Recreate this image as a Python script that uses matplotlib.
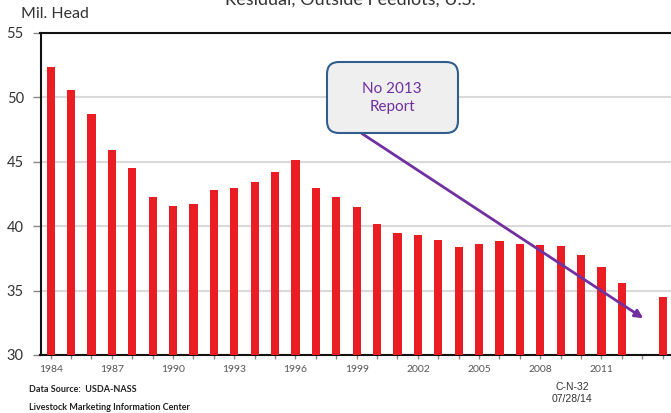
import matplotlib.pyplot as plt
from matplotlib.patches import FancyBboxPatch

plt.rcParams['font.family'] = ['Lato', 'DejaVu Sans']

# Residual cattle outside feedlots, million head (no 2013 report)
years = [1984, 1985, 1986, 1987, 1988, 1989, 1990, 1991, 1992, 1993,
         1994, 1995, 1996, 1997, 1998, 1999, 2000, 2001, 2002, 2003,
         2004, 2005, 2006, 2007, 2008, 2009, 2010, 2011, 2012, 2014]
head = [52.35, 50.6, 48.7, 45.95, 44.5, 42.3, 41.55, 41.7, 42.8, 42.95,
        43.45, 44.2, 45.15, 42.95, 42.25, 41.5, 40.2, 39.45, 39.35, 38.95,
        38.4, 38.65, 38.85, 38.65, 38.55, 38.45, 37.75, 36.8, 35.6, 34.5]
tick_years = list(range(1984, 2015))
label_years = list(range(1984, 2012, 3))
y_ticks = [30, 35, 40, 45, 50, 55]

# where the callout arrow points (the missing year)
missing_year = 2013
arrow_tip_y = 32.85
arrow_start = (1999.25, 47.2)

fig = plt.figure(figsize=(6.71, 4.13), dpi=100)
ax = fig.add_axes([40.5 / 671, 58 / 413, 632.4 / 671, 322 / 413])

ax.bar(years, head, width=0.4, color='#ea1c24', zorder=3)

ax.set_xlim(1983.5, 2014.5)
ax.set_ylim(30, 55)
ax.set_yticks(y_ticks)
ax.set_yticklabels([str(v) for v in y_ticks], fontsize=10.5, color='#333333')
ax.set_xticks(tick_years)
ax.set_xticklabels([str(y) if y in label_years else '' for y in tick_years],
                   fontsize=7.5, color='#555555')
ax.tick_params(axis='x', length=3, width=1, color='#888888', pad=4)
ax.tick_params(axis='y', length=6, width=1, color='#888888', pad=6)

ax.yaxis.grid(True, color='#d9d9d9', linewidth=1.5)
ax.set_axisbelow(True)
for side in ['left', 'bottom', 'top']:
    ax.spines[side].set_color('#111111')
    ax.spines[side].set_linewidth(1.5)
ax.spines['right'].set_visible(False)

# title cut off at the top of the slide
fig.text(350 / 671, 0.988, 'Residual, Outside Feedlots, U.S.', ha='center',
         va='baseline', fontsize=13, color='#333333')
fig.text(21 / 671, 0.957, 'Mil. Head', ha='left', va='baseline',
         fontsize=11.5, color='#333333')

# callout
box = FancyBboxPatch((3.27, 2.80), 1.31, 0.71,
                     boxstyle='round,pad=0,rounding_size=0.12',
                     transform=fig.dpi_scale_trans, facecolor='#efefef',
                     edgecolor='#2f5f8f', linewidth=1.5, zorder=5)
fig.add_artist(box)
fig.text(392 / 671, (413 - 98) / 413, 'No 2013\nReport', ha='center',
         va='center', fontsize=11, color='#7030a0', linespacing=1.3, zorder=6)
ax.annotate('', xy=(missing_year + 0.05, arrow_tip_y), xytext=arrow_start,
            arrowprops=dict(arrowstyle='-|>', color='#7030a0', lw=2,
                            mutation_scale=12, shrinkA=0, shrinkB=0),
            zorder=6, annotation_clip=False)

# footer
fig.text(29 / 671, (413 - 389) / 413, 'Data Source:  USDA-NASS',
         fontsize=6.5, fontweight='bold', va='center', color='#222222')
fig.text(29 / 671, (413 - 407) / 413, 'Livestock Marketing Information Center',
         fontsize=6.5, fontweight='bold', va='center', color='#222222')
fig.text(572 / 671, (413 - 386.5) / 413, 'C-N-32', fontsize=7.5, ha='center',
         va='center', family='Liberation Sans', color='#333333')
fig.text(572 / 671, (413 - 399) / 413, '07/28/14', fontsize=7.5, ha='center',
         va='center', family='Liberation Sans', color='#333333')

fig.savefig('out.png', dpi=100)
